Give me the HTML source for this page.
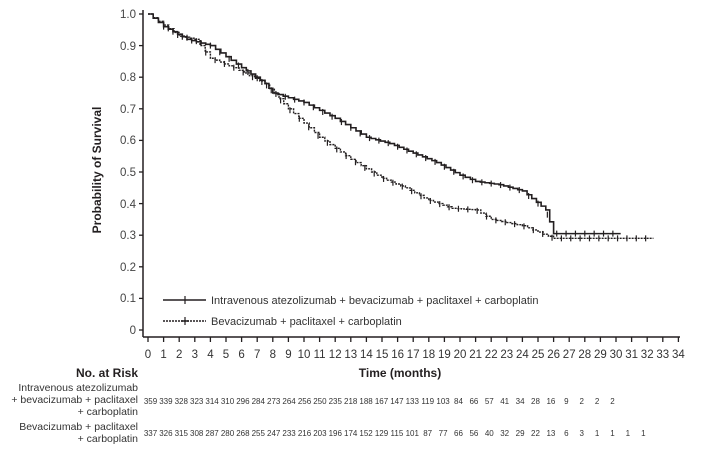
<!DOCTYPE html>
<html><head><meta charset="utf-8"><style>
body{margin:0;background:#fff;}
svg{display:block;font-family:"Liberation Sans",sans-serif;fill:#231f20;}
</style></head><body>
<svg width="728" height="457" viewBox="0 0 728 457">
<g stroke="#231f20" stroke-width="1.5" fill="none">
<line x1="143" y1="10" x2="143" y2="337"/>
<line x1="143" y1="337" x2="680" y2="337"/>
</g>
<g stroke="#231f20" stroke-width="1.3" id="yt">
<line x1="139" y1="14" x2="143" y2="14"/><line x1="139" y1="45.6" x2="143" y2="45.6"/><line x1="139" y1="77.2" x2="143" y2="77.2"/><line x1="139" y1="108.8" x2="143" y2="108.8"/><line x1="139" y1="140.4" x2="143" y2="140.4"/><line x1="139" y1="172" x2="143" y2="172"/><line x1="139" y1="203.6" x2="143" y2="203.6"/><line x1="139" y1="235.2" x2="143" y2="235.2"/><line x1="139" y1="266.8" x2="143" y2="266.8"/><line x1="139" y1="298.4" x2="143" y2="298.4"/><line x1="139" y1="330" x2="143" y2="330"/>
</g>
<g font-size="11.5" text-anchor="end" fill="#444">
<text x="136" y="18">1.0</text><text x="136" y="50">0.9</text><text x="136" y="81">0.8</text><text x="136" y="113">0.7</text><text x="136" y="144">0.6</text><text x="136" y="176">0.5</text><text x="136" y="208">0.4</text><text x="136" y="239">0.3</text><text x="136" y="271">0.2</text><text x="136" y="302">0.1</text><text x="136" y="334">0</text>
</g>
<g id="xt" stroke="#231f20" stroke-width="1.3"></g>
<g id="xl" font-size="11.5" text-anchor="middle" fill="#333"></g>
<g id="nr" font-size="8" text-anchor="middle" fill="#333"></g>
<text transform="translate(101,170) rotate(-90)" font-size="12" font-weight="bold" text-anchor="middle">Probability of Survival</text>
<text x="400" y="377" font-size="12" font-weight="bold" text-anchor="middle">Time (months)</text>
<text x="138" y="377" font-size="12" font-weight="bold" text-anchor="end">No. at Risk</text>
<g font-size="10.5" text-anchor="end" fill="#333">
<text x="138" y="391">Intravenous atezolizumab</text>
<text x="138" y="403">+ bevacizumab + paclitaxel</text>
<text x="138" y="415">+ carboplatin</text>
<text x="138" y="430">Bevacizumab + paclitaxel</text>
<text x="138" y="442">+ carboplatin</text>
</g>
<polyline id="s1" fill="none" stroke="#231f20" stroke-width="1.6"/>
<polyline id="s2" fill="none" stroke="#231f20" stroke-width="1.4" stroke-dasharray="2,1"/>
<g id="c1" stroke="#231f20" stroke-width="1.2"></g>
<g stroke="#231f20" fill="none">
<line x1="163" y1="300" x2="206" y2="300" stroke-width="1.6"/><line x1="185" y1="296" x2="185" y2="304" stroke-width="1.2"/>
<line x1="163" y1="321" x2="206" y2="321" stroke-width="1.4" stroke-dasharray="2,1"/><line x1="185" y1="317" x2="185" y2="325" stroke-width="1.2"/><line x1="181" y1="321" x2="189" y2="321" stroke-width="1.5"/>
</g>
<text x="211" y="304" font-size="11" fill="#333">Intravenous atezolizumab + bevacizumab + paclitaxel + carboplatin</text>
<text x="211" y="325" font-size="11" fill="#333">Bevacizumab + paclitaxel + carboplatin</text>
</svg>
<script>
var ns="http://www.w3.org/2000/svg";
var xt=document.getElementById('xt'),xl=document.getElementById('xl'),nr=document.getElementById('nr');
function X(t){return 148+15.6*t}function Y(s){return 330-316*s}
for(var i=0;i<=34;i++){var l=document.createElementNS(ns,'line');l.setAttribute('x1',X(i));l.setAttribute('x2',X(i));l.setAttribute('y1',337);l.setAttribute('y2',342);xt.appendChild(l);
var t=document.createElementNS(ns,'text');t.setAttribute('x',X(i));t.setAttribute('y',358);t.textContent=i;xl.appendChild(t);}
var r1="359 339 328 323 314 310 296 284 273 264 256 250 235 218 188 167 147 133 119 103 84 66 57 41 34 28 16 9 2 2 2".split(' ');
var r2="337 326 315 308 287 280 268 255 247 233 216 203 196 174 152 129 115 101 87 77 66 56 40 32 29 22 13 6 3 1 1 1 1".split(' ');
function row(r,y){for(var i=0;i<r.length;i++){var t=document.createElementNS(ns,'text');t.setAttribute('x',150.5+15.4*i);t.setAttribute('y',y);t.textContent=r[i];nr.appendChild(t);}}
row(r1,404);row(r2,436);
var a=[[0,1],[1,0.96],[2.5,0.92],[4,0.9],[6,0.83],[7.5,0.78],[8,0.75],[10,0.72],[12,0.67],[14,0.61],[15.5,0.59],[17,0.56],[18.5,0.53],[20,0.49],[21,0.47],[22.5,0.46],[24,0.44],[25.5,0.38],[26,0.305],[30.3,0.305]];
var b=[[0,1],[2,0.93],[3,0.92],[4,0.86],[5.5,0.83],[7.5,0.78],[9,0.70],[11,0.61],[13,0.54],[15,0.48],[16.5,0.45],[18,0.41],[19.5,0.385],[21,0.38],[22,0.35],[24,0.33],[25,0.31],[26,0.29],[32.4,0.29]];
function step(d){var p=[];for(var i=0;i<d.length-1;i++){var t0=d[i][0],s0=d[i][1],t1=d[i+1][0],s1=d[i+1][1];var n=Math.max(1,Math.round((t1-t0)*3));for(var k=0;k<n;k++){var ta=t0+(t1-t0)*k/n,tb=t0+(t1-t0)*(k+1)/n,s=s0+(s1-s0)*k/n,sn=s0+(s1-s0)*(k+1)/n;p.push(X(ta)+','+Y(s));p.push(X(tb)+','+Y(s));p.push(X(tb)+','+Y(sn));}}return p.join(' ');}
document.getElementById('s1').setAttribute('points',step(a));
document.getElementById('s2').setAttribute('points',step(b));
var c=document.getElementById('c1');
function cens(d,from,ev){for(var t=from;t<d[d.length-1][0];t+=ev){var s;for(var i=0;i<d.length-1;i++)if(t>=d[i][0]&&t<=d[i+1][0]){s=d[i][1]+(d[i+1][1]-d[i][1])*(t-d[i][0])/(d[i+1][0]-d[i][0]);break;}
var l=document.createElementNS(ns,'line');l.setAttribute('x1',X(t));l.setAttribute('x2',X(t));l.setAttribute('y1',Y(s)-3);l.setAttribute('y2',Y(s)+3);c.appendChild(l);}}
cens(a,1,0.6);cens(b,1.3,0.6);
</script>
</body></html>
